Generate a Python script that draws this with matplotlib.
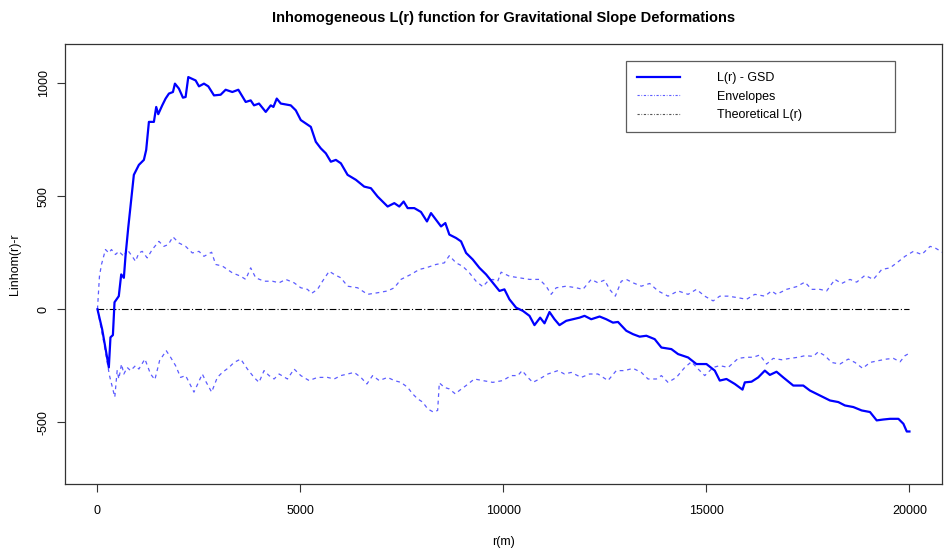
import matplotlib
matplotlib.use("Agg")
import matplotlib.pyplot as plt
from matplotlib.lines import Line2D

plt.rcParams['font.family'] = ['Liberation Sans', 'DejaVu Sans']
plt.rcParams['axes.unicode_minus'] = False

# observed L(r) - r for the GSD points
r_obs = [0, 115, 280, 320, 380, 420, 525, 585, 650, 690, 757, 814, 896, 1020, 1143,
         1200, 1267, 1390, 1447, 1497, 1595, 1678, 1760, 1859, 1908, 2006, 2105, 2171,
         2237, 2418, 2500, 2623, 2730, 2870, 3034, 3157, 3322, 3470, 3651, 3774, 3856,
         3979, 4145, 4268, 4334, 4416, 4515, 4761, 4885, 5008, 5255, 5378, 5501, 5625,
         5748, 5872, 5995, 6160, 6365, 6570, 6735, 6900, 7147, 7311, 7434, 7541, 7640,
         7804, 7968, 8116, 8215, 8338, 8462, 8568, 8667, 8832, 8955, 9079, 9243, 9408,
         9572, 9737, 9901, 10024, 10147, 10312, 10477, 10641, 10764, 10904, 11011,
         11134, 11257, 11380, 11546, 11710, 11874, 11997, 12162, 12368, 12532, 12697,
         12821, 13026, 13191, 13355, 13520, 13725, 13890, 14136, 14301, 14548, 14753,
         15000, 15205, 15328, 15493, 15698, 15888, 15945, 16110, 16275, 16438, 16562,
         16726, 16891, 17138, 17385, 17548, 17795, 18042, 18248, 18411, 18618, 18823,
         19028, 19193, 19358, 19522, 19728, 19851, 19934, 20000]
l_obs = [0, -88, -257, -124, -114, 31, 58, 154, 139, 234, 359, 454, 594, 638, 660,
         704, 828, 828, 894, 862, 901, 931, 953, 960, 997, 975, 935, 938,
         1026, 1011, 985, 997, 985, 945, 948, 970, 960, 970, 916, 923, 901,
         909, 872, 901, 894, 931, 909, 901, 879, 836, 806, 740, 711, 689,
         652, 660, 645, 594, 572, 542, 535, 498, 454, 469, 454, 476, 447,
         447, 430, 388, 425, 396, 366, 381, 330, 315, 300, 249, 220, 183,
         154, 117, 81, 88, 44, 7, -7, -29, -70, -37, -62,
         -12, -44, -70, -51, -44, -37, -29, -44, -32, -44, -59,
         -56, -95, -110, -121, -117, -132, -169, -176, -198, -213, -242,
         -242, -271, -315, -308, -330, -355, -323, -320, -301, -271, -290,
         -276, -301, -337, -337, -359, -381, -403, -410, -425, -432, -447,
         -454, -491, -487, -484, -484, -506, -540, -540]

# upper simulation envelope
r_hi = [0, 49, 99, 197, 280, 345, 444, 526, 650, 732, 855, 937, 1020, 1102, 1225,
        1349, 1513, 1636, 1743, 1859, 2006, 2171, 2336, 2500, 2623, 2812, 2911, 3076,
        3322, 3528, 3651, 3774, 3898, 4103, 4309, 4474, 4638, 4843, 5008, 5173, 5272,
        5420, 5543, 5707, 5830, 5995, 6160, 6407, 6653, 6900, 7147, 7311, 7475, 7721,
        7927, 8091, 8338, 8543, 8667, 8832, 8997, 9161, 9325, 9490, 9614, 9737, 9860,
        9942, 10147, 10394, 10641, 10887, 11052, 11175, 11299, 11546, 11792, 11957,
        12162, 12327, 12491, 12614, 12755, 12902, 13026, 13191, 13396, 13601, 13808,
        14054, 14301, 14548, 14753, 14958, 15165, 15328, 15535, 15781, 15986, 16192,
        16438, 16603, 16726, 16973, 17220, 17425, 17590, 17795, 17960, 18165, 18330,
        18535, 18700, 18905, 19111, 19317, 19522, 19687, 19891, 20098, 20303, 20509,
        20633, 20838]
l_hi = [0, 146, 198, 264, 249, 264, 242, 256, 234, 264, 234, 212, 249, 256, 227,
        264, 300, 278, 286, 320, 293, 278, 249, 256, 234, 252, 198, 191,
        161, 146, 132, 183, 139, 124, 124, 117, 132, 117, 95, 88, 70,
        88, 124, 168, 154, 139, 102, 95, 66, 73, 81, 95, 132, 154,
        176, 183, 198, 205, 237, 205, 190, 161, 124, 100, 124, 132, 124,
        164, 146, 139, 132, 132, 102, 66, 95, 102, 95, 88,
        132, 117, 129, 88, 58, 124, 132, 117, 102, 114, 81,
        58, 81, 66, 88, 58, 37, 58, 58, 51, 44, 66,
        58, 81, 66, 88, 100, 120, 88, 88, 81, 132, 114,
        132, 120, 150, 132, 176, 183, 205, 234, 256, 242, 278,
        271, 249]

# lower simulation envelope
r_lo = [0, 156, 296, 427, 485, 526, 592, 650, 732, 814, 937, 1020, 1168, 1307, 1414,
        1530, 1694, 1801, 1924, 2048, 2171, 2377, 2582, 2681, 2812, 2952, 3076, 3240,
        3363, 3528, 3693, 3856, 3979, 4103, 4226, 4350, 4474, 4680, 4843, 5008, 5213,
        5420, 5667, 5830, 5995, 6160, 6323, 6488, 6636, 6777, 6940, 7147, 7311, 7475,
        7640, 7764, 7887, 8010, 8133, 8272, 8379, 8420, 8543, 8667, 8815, 8914, 9079,
        9284, 9490, 9737, 9984, 10189, 10353, 10460, 10600, 10723, 10887, 11094, 11341,
        11504, 11669, 11916, 12121, 12327, 12574, 12779, 12984, 13191, 13396, 13561,
        13766, 13890, 14054, 14260, 14465, 14630, 14795, 14958, 15165, 15328, 15535,
        15781, 15986, 16151, 16315, 16480, 16645, 16850, 17055, 17262, 17425, 17632,
        17755, 17918, 18083, 18288, 18495, 18658, 18848, 19028, 19235, 19440, 19605,
        19769, 19891, 20000]
l_lo = [0, -147, -293, -388, -271, -308, -242, -286, -257, -271, -249, -264, -220, -286, -311,
        -227, -183, -212, -249, -301, -293, -366, -286, -323, -366, -301, -279, -257,
        -235, -220, -264, -301, -323, -271, -293, -308, -286, -308, -264, -293, -315,
        -301, -301, -308, -293, -286, -279, -301, -330, -293, -315, -301, -315, -323,
        -345, -374, -396, -410, -440, -454, -447, -325, -345, -352, -374, -359, -337,
        -308, -315, -323, -315, -293, -293, -271, -301, -323, -308, -286, -271,
        -286, -279, -301, -286, -286, -315, -271, -271, -261, -279, -308,
        -308, -293, -323, -301, -257, -232, -264, -293, -257, -249, -257,
        -217, -212, -212, -202, -242, -217, -223, -217, -212, -205, -208,
        -188, -205, -235, -242, -220, -235, -261, -235, -227, -220, -217,
        -232, -205, -194]

# theoretical L(r) - r under CSR
r_theo = [0, 20000]
l_theo = [0, 0]

x_ticks = [0, 5000, 10000, 15000, 20000]
y_ticks = [-500, 0, 500, 1000]

fig = plt.figure(figsize=(9.46, 5.51), dpi=100)
ax = fig.add_axes([0.0687, 0.1216, 0.927, 0.7985])

env_color = '#5c5cff'
ax.plot(r_hi, l_hi, color=env_color, lw=0.9, linestyle=(0, (3, 3)))
ax.plot(r_lo, l_lo, color=env_color, lw=0.9, linestyle=(0, (3, 3)))
ax.plot(r_theo, l_theo, color='black', lw=0.8, linestyle=(0, (6, 2, 1, 2)))
ax.plot(r_obs, l_obs, color='blue', lw=1.6)

ax.set_xlim(-800, 20800)
ax.set_ylim(-772, 1172)
ax.set_xticks(x_ticks)
ax.set_yticks(y_ticks)
ax.tick_params(axis='both', direction='out', length=6, width=0.8,
               labelsize=9, color='#333333')
ax.tick_params(axis='x', pad=9)
ax.tick_params(axis='y', pad=5)
for lab in ax.get_yticklabels():
    lab.set_rotation(90)
    lab.set_va('center')
for sp in ax.spines.values():
    sp.set_color('#333333')
    sp.set_linewidth(0.9)

ax.set_title('Inhomogeneous L(r) function for Gravitational Slope Deformations',
             fontsize=10.5, fontweight='bold', pad=16)
ax.set_xlabel('r(m)', fontsize=9, labelpad=14)
ax.set_ylabel('Linhom(r)-r', fontsize=9, labelpad=12)

handles = [
    Line2D([], [], color='blue', lw=1.6),
    Line2D([], [], color=env_color, lw=0.8, linestyle=(0, (2, 1.5, 0.7, 1.5))),
    Line2D([], [], color='#555555', lw=0.8, linestyle=(0, (2, 1.5, 0.7, 1.5))),
]
leg = ax.legend(handles, ['L(r) - GSD', 'Envelopes', 'Theoretical L(r)'],
                loc='upper left', bbox_to_anchor=(0.64, 0.961, 0.306, 0.0),
                mode='expand', fontsize=9, frameon=True, fancybox=False,
                borderpad=0.9, handlelength=3.4, handletextpad=3.0,
                labelspacing=0.5, borderaxespad=0)
leg.get_frame().set_edgecolor('#333333')
leg.get_frame().set_linewidth(0.9)

fig.savefig('out.png', dpi=100)
